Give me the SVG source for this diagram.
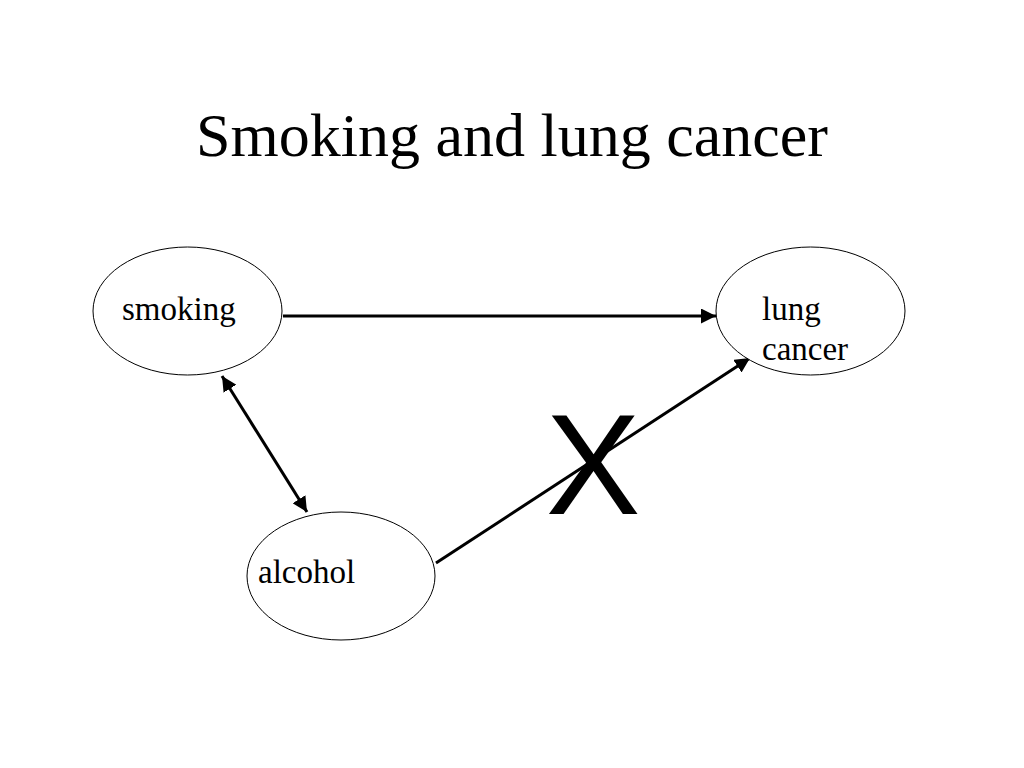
<svg xmlns="http://www.w3.org/2000/svg" width="1024" height="768" viewBox="0 0 1024 768">
<style>
.node{fill:#fff;stroke:#000;stroke-width:1}
.lbl{font-family:"Liberation Serif","Times New Roman",serif;font-size:33px;fill:#000}
.edge{stroke:#000;stroke-width:3;fill:none}
</style>
<defs>
<marker id="ah" viewBox="0 0 10 10" refX="10" refY="5" markerWidth="5" markerHeight="5" orient="auto-start-reverse" markerUnits="strokeWidth">
<path d="M0,0 L10,5 L0,10 z" fill="#000"/>
</marker>
</defs>
<rect width="1024" height="768" fill="#fff"/>
<text x="512" y="156" text-anchor="middle" font-family="'Liberation Serif','Times New Roman',serif" font-size="62" fill="#000">Smoking and lung cancer</text>
<g id="connectors">
<line class="edge" x1="283" y1="316" x2="716" y2="316" marker-end="url(#ah)"/>
<line class="edge" x1="222" y1="376" x2="307" y2="512" marker-start="url(#ah)" marker-end="url(#ah)"/>
<line class="edge" x1="436" y1="563" x2="750" y2="358" marker-end="url(#ah)"/>
</g>
<g id="smoking">
<ellipse class="node" cx="187.5" cy="311" rx="94.5" ry="64"/>
<text class="lbl" x="122" y="320">smoking</text>
</g>
<g id="lung-cancer">
<ellipse class="node" cx="810.5" cy="311" rx="94.5" ry="64"/>
<text class="lbl" x="762" y="320">lung</text>
<text class="lbl" x="762" y="360">cancer</text>
</g>
<g id="alcohol">
<ellipse class="node" cx="341" cy="576" rx="94" ry="64"/>
<text class="lbl" x="258" y="583">alcohol</text>
</g>
<text id="x-mark" x="593" y="514" text-anchor="middle" font-family="'Liberation Sans',Arial,sans-serif" font-size="142" fill="#000">X</text>
</svg>
